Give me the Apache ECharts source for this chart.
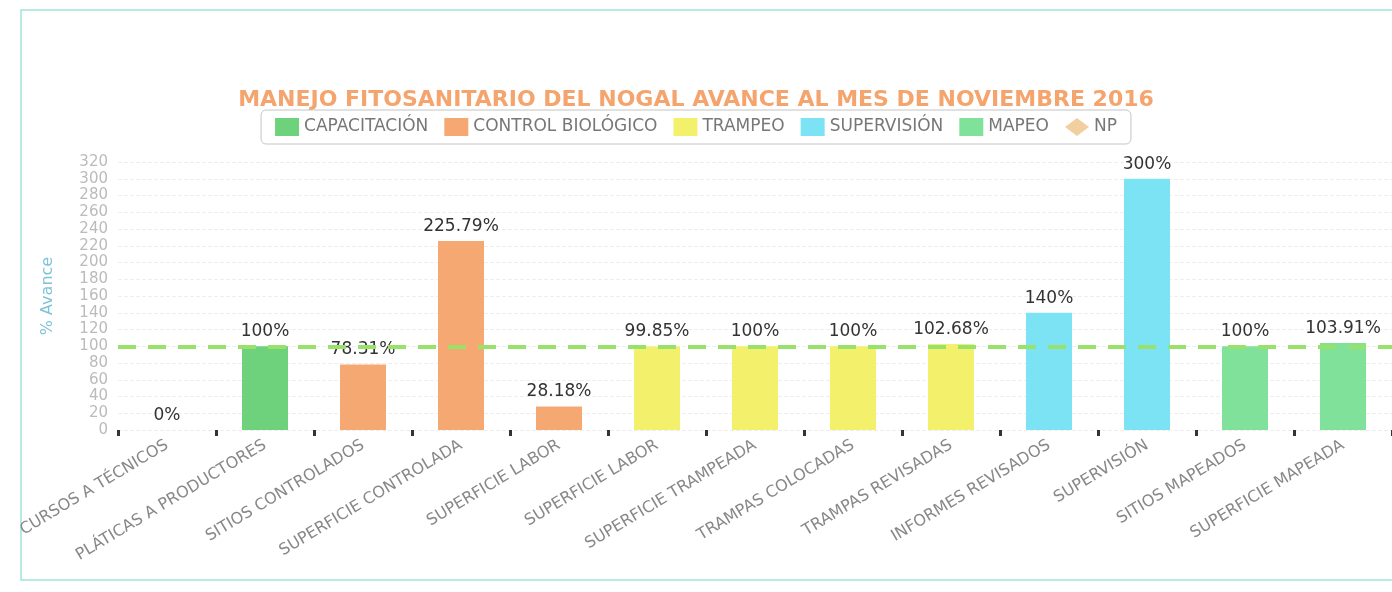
<!DOCTYPE html>
<html>
<head>
<meta charset="utf-8">
<script src="https://cdn.jsdelivr.net/npm/echarts@6/dist/echarts.min.js"></script>
<style>
html,body{margin:0;padding:0;background:#fff;}
#bar{width:1392px;height:592px;}
</style>
</head>
<body>
<div id="bar"></div>
<script>
var categories = ['CURSOS A TÉCNICOS','PLÁTICAS A PRODUCTORES','SITIOS CONTROLADOS','SUPERFICIE CONTROLADA','SUPERFICIE LABOR','SUPERFICIE LABOR','SUPERFICIE TRAMPEADA','TRAMPAS COLOCADAS','TRAMPAS REVISADAS','INFORMES REVISADOS','SUPERVISIÓN','SITIOS MAPEADOS','SUPERFICIE MAPEADA'];
var capacitacion = [0, 100, '-', '-', '-', '-', '-', '-', '-', '-', '-', '-', '-'];
var controlBiologico = ['-', '-', 78.31, 225.79, 28.18, '-', '-', '-', '-', '-', '-', '-', '-'];
var trampeo = ['-', '-', '-', '-', '-', 99.85, 100, 100, 102.68, '-', '-', '-', '-'];
var supervision = ['-', '-', '-', '-', '-', '-', '-', '-', '-', 140, 300, '-', '-'];
var mapeo = ['-', '-', '-', '-', '-', '-', '-', '-', '-', '-', '-', 100, 103.91];
var np = [100, 100, 100, 100, 100, 100, 100, 100, 100, 100, 100, 100, 100];

window.onload = function(){
	var myChart = echarts.init(document.getElementById('bar'));
	var font = 'DejaVu Sans';

	function barSeries(name, data, color){
		return {
			name: name,
			type: 'bar',
			stack: 'avance',
			data: data,
			barWidth: 46,
			z: 3,
			itemStyle: { color: color },
			label: {
				show: true,
				position: 'top',
				distance: 6,
				color: '#333',
				fontSize: 17,
				fontFamily: font,
				formatter: '{c}%'
			}
		};
	}

	var option = {
		textStyle: { fontFamily: font },
		graphic: [{
			type: 'rect',
			shape: { x: 21, y: 10, width: 1400, height: 570 },
			style: { fill: 'none', stroke: '#9ee5db', lineWidth: 1.5 },
			silent: true
		}],
		title: {
			text: 'MANEJO FITOSANITARIO DEL NOGAL AVANCE AL MES DE NOVIEMBRE 2016',
			left: 'center',
			top: 84,
			textStyle: {
				color: '#f4a46c',
				fontSize: 22,
				fontWeight: 'bold',
				fontFamily: font
			}
		},
		legend: {
			top: 110,
			left: 'center',
			itemWidth: 24,
			itemHeight: 18,
			itemGap: 16,
			padding: [8, 14],
			borderColor: '#c4c4c4',
			borderWidth: 1,
			borderRadius: 5,
			textStyle: { color: '#777', fontSize: 17, fontFamily: font },
			data: [
				{ name: 'CAPACITACIÓN', icon: 'rect' },
				{ name: 'CONTROL BIOLÓGICO', icon: 'rect' },
				{ name: 'TRAMPEO', icon: 'rect' },
				{ name: 'SUPERVISIÓN', icon: 'rect' },
				{ name: 'MAPEO', icon: 'rect' },
				{ name: 'NP', icon: 'diamond' }
			]
		},
		grid: {
			left: 118,
			right: 0,
			top: 162,
			bottom: 162
		},
		xAxis: {
			type: 'category',
			data: categories,
			axisLine: { show: false },
			axisTick: {
				show: true,
				length: 6,
				lineStyle: { color: '#333', width: 3 }
			},
			axisLabel: {
				rotate: 31,
				interval: 0,
				margin: 14,
				color: '#888',
				fontSize: 16,
				fontFamily: font
			}
		},
		yAxis: {
			type: 'value',
			min: 0,
			max: 320,
			interval: 20,
			name: '% Avance',
			nameLocation: 'middle',
			nameGap: 62,
			nameTextStyle: { color: '#7fc3d6', fontSize: 16, fontFamily: font },
			axisLine: { show: false },
			axisTick: { show: false },
			axisLabel: { color: '#bbb', fontSize: 15, fontFamily: font, margin: 10 },
			splitLine: { lineStyle: { color: '#eee', type: 'dashed' } }
		},
		series: [
			barSeries('CAPACITACIÓN', capacitacion, '#6dd27b'),
			barSeries('CONTROL BIOLÓGICO', controlBiologico, '#f6a872'),
			barSeries('TRAMPEO', trampeo, '#f3f06c'),
			barSeries('SUPERVISIÓN', supervision, '#7ce3f5'),
			barSeries('MAPEO', mapeo, '#80e29a'),
			{
				name: 'NP',
				type: 'line',
				data: np,
				z: 1,
				symbol: 'none',
				itemStyle: { color: '#f2cf9e' },
				lineStyle: { opacity: 0 },
				markLine: {
					silent: true,
					symbol: 'none',
					label: { show: false },
					lineStyle: { color: '#98e26c', width: 4, type: [18, 12] },
					data: [{ yAxis: np[0] }]
				}
			}
		]
	};
	myChart.setOption(option);
	window.addEventListener('resize', function(){
		myChart.resize();
	});
};
</script>
</body>
</html>
